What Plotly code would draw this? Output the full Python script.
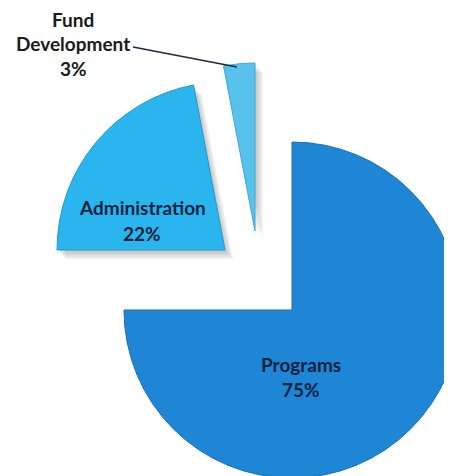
import plotly.graph_objects as go

# ---- data ----
categories = ["Programs", "Administration", "Fund Development"]
shares = [75, 22, 3]

# ---- style / layout ----
W, H = 452, 476
PAGE = 8          # default page margin of the html body
R = 168
slice_colors = {"Programs": "#1f86d6", "Administration": "#2bb5ee", "Fund Development": "#58c2ec"}
edge_colors = {"Programs": "#1a6db0", "Administration": "#1f98cc", "Fund Development": "#3aa8d6"}
# window-pixel position of each (exploded) slice's apex
slice_apex = {"Programs": (292, 310), "Administration": (225, 250), "Fund Development": (255, 231)}
# window-pixel centre of first label line, and line spacing
label_pos = {"Programs": (301, 364), "Administration": (142, 208), "Fund Development": (73, 19)}
LINE_GAP = 25
text_colors = {"Programs": "#0c2240", "Administration": "#0c2240", "Fund Development": "#1a1a1a"}
FONT = "Lato"
FSIZE = 19
shadow_steps = [(2, 3), (4, 5), (6, 7), (8, 9)]
shadow_color = "rgba(60,60,60,0.08)"


def px_domain(cx, cy):
    cx, cy = cx - PAGE, cy - PAGE
    return dict(x=[(cx - R) / W, (cx + R) / W],
                y=[(H - (cy + R)) / H, (H - (cy - R)) / H])


def fits(d):
    return d["x"][0] >= 0 and d["x"][1] <= 1 and d["y"][0] >= 0 and d["y"][1] <= 1


def px(x, y):
    return (x - PAGE) / W, (H - (y - PAGE)) / H


fig = go.Figure()


def add_slice(cat, colour, line_colour, lw, dom):
    cols = [colour if c == cat else "rgba(0,0,0,0)" for c in categories]
    lcols = [line_colour if c == cat else "rgba(0,0,0,0)" for c in categories]
    lws = [lw if c == cat else 0 for c in categories]
    fig.add_trace(go.Pie(
        labels=categories, values=shares, sort=False,
        direction="clockwise", rotation=0,
        marker=dict(colors=cols, line=dict(color=lcols, width=lws)),
        textinfo="none", hoverinfo="skip", showlegend=False,
        domain=dom,
    ))


# soft shadows first
for cat in categories:
    ax, ay = slice_apex[cat]
    for dx, dy in shadow_steps:
        dom = px_domain(ax + dx, ay + dy)
        if fits(dom):
            add_slice(cat, shadow_color, "rgba(0,0,0,0)", 0, dom)

# slices
for cat in categories:
    dom = px_domain(*slice_apex[cat])
    dom = dict(x=[max(0, dom["x"][0]), min(1, dom["x"][1])],
               y=[max(0, dom["y"][0]), min(1, dom["y"][1])])
    add_slice(cat, slice_colors[cat], edge_colors[cat], 1, dom)

annotations = []
for cat, val in zip(categories, shares):
    lines = cat.split(" ") + [f"{val}%"]
    lx, ly = label_pos[cat]
    for i, line in enumerate(lines):
        x, y = px(lx, ly + i * LINE_GAP)
        annotations.append(dict(
            x=x, y=y, xref="paper", yref="paper", xanchor="center", yanchor="middle",
            text=f"<b>{line}</b>", showarrow=False,
            font=dict(family=FONT, size=FSIZE, color=text_colors[cat]),
        ))

# leader line for the small slice
x0, y0 = px(133, 47)
x1, y1 = px(237, 67)
shapes = [dict(type="line", xref="paper", yref="paper", x0=x0, y0=y0, x1=x1, y1=y1,
               line=dict(color="#1c2a3a", width=1.5))]

fig.update_layout(
    width=W, height=H,
    margin=dict(l=0, r=0, t=0, b=0),
    paper_bgcolor="white", plot_bgcolor="white",
    annotations=annotations, shapes=shapes,
)
fig.write_html("out.html", config={"displayModeBar": False})
